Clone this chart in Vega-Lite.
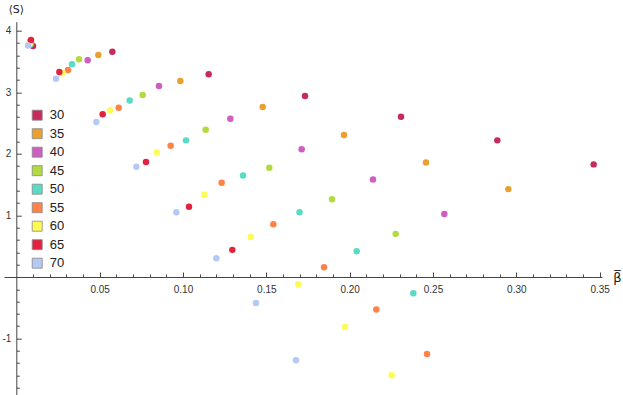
{
  "$schema": "https://vega.github.io/schema/vega-lite/v6.json",
  "width": 598,
  "height": 374,
  "autosize": {"type": "none"},
  "padding": {"left": 4, "top": 21.7, "right": 21, "bottom": 0},
  "background": "white",
  "config": {"view": {"stroke": null}, "font": "Liberation Sans"},
  "data": {"values": [
    {"n": "30", "beta": 0.0100, "S": 3.75},
    {"n": "35", "beta": 0.0088, "S": 3.79},
    {"n": "40", "beta": 0.0088, "S": 3.80},
    {"n": "45", "beta": 0.0082, "S": 3.80},
    {"n": "50", "beta": 0.0082, "S": 3.77},
    {"n": "55", "beta": 0.0082, "S": 3.82},
    {"n": "60", "beta": 0.0082, "S": 3.79},
    {"n": "65", "beta": 0.0088, "S": 3.85},
    {"n": "70", "beta": 0.0070, "S": 3.76},
    {"n": "30", "beta": 0.0576, "S": 3.659},
    {"n": "30", "beta": 0.1154, "S": 3.291},
    {"n": "30", "beta": 0.1732, "S": 2.938},
    {"n": "30", "beta": 0.2308, "S": 2.602},
    {"n": "30", "beta": 0.2886, "S": 2.218},
    {"n": "30", "beta": 0.3464, "S": 1.828},
    {"n": "35", "beta": 0.0492, "S": 3.605},
    {"n": "35", "beta": 0.0984, "S": 3.182},
    {"n": "35", "beta": 0.1478, "S": 2.759},
    {"n": "35", "beta": 0.1966, "S": 2.304},
    {"n": "35", "beta": 0.2458, "S": 1.860},
    {"n": "35", "beta": 0.2952, "S": 1.426},
    {"n": "40", "beta": 0.0428, "S": 3.519},
    {"n": "40", "beta": 0.0856, "S": 3.101},
    {"n": "40", "beta": 0.1284, "S": 2.569},
    {"n": "40", "beta": 0.1712, "S": 2.072},
    {"n": "40", "beta": 0.2140, "S": 1.584},
    {"n": "40", "beta": 0.2568, "S": 1.020},
    {"n": "45", "beta": 0.0376, "S": 3.535},
    {"n": "45", "beta": 0.0758, "S": 2.954},
    {"n": "45", "beta": 0.1136, "S": 2.390},
    {"n": "45", "beta": 0.1518, "S": 1.772},
    {"n": "45", "beta": 0.1894, "S": 1.263},
    {"n": "45", "beta": 0.2276, "S": 0.699},
    {"n": "50", "beta": 0.0334, "S": 3.454},
    {"n": "50", "beta": 0.0680, "S": 2.865},
    {"n": "50", "beta": 0.1018, "S": 2.218},
    {"n": "50", "beta": 0.1360, "S": 1.649},
    {"n": "50", "beta": 0.1699, "S": 1.052},
    {"n": "50", "beta": 0.2042, "S": 0.418},
    {"n": "50", "beta": 0.2382, "S": -0.265},
    {"n": "55", "beta": 0.0310, "S": 3.361},
    {"n": "55", "beta": 0.0614, "S": 2.748},
    {"n": "55", "beta": 0.0926, "S": 2.130},
    {"n": "55", "beta": 0.1232, "S": 1.528},
    {"n": "55", "beta": 0.1542, "S": 0.857},
    {"n": "55", "beta": 0.1846, "S": 0.158},
    {"n": "55", "beta": 0.2160, "S": -0.530},
    {"n": "55", "beta": 0.2464, "S": -1.252},
    {"n": "60", "beta": 0.0278, "S": 3.307},
    {"n": "60", "beta": 0.0562, "S": 2.706},
    {"n": "60", "beta": 0.0842, "S": 2.023},
    {"n": "60", "beta": 0.1128, "S": 1.333},
    {"n": "60", "beta": 0.1406, "S": 0.650},
    {"n": "60", "beta": 0.1692, "S": -0.119},
    {"n": "60", "beta": 0.1972, "S": -0.813},
    {"n": "60", "beta": 0.2252, "S": -1.598},
    {"n": "65", "beta": 0.0258, "S": 3.328},
    {"n": "65", "beta": 0.0518, "S": 2.641},
    {"n": "65", "beta": 0.0778, "S": 1.865},
    {"n": "65", "beta": 0.1036, "S": 1.138},
    {"n": "65", "beta": 0.1296, "S": 0.439},
    {"n": "70", "beta": 0.0238, "S": 3.220},
    {"n": "70", "beta": 0.0480, "S": 2.515},
    {"n": "70", "beta": 0.0720, "S": 1.789},
    {"n": "70", "beta": 0.0960, "S": 1.052},
    {"n": "70", "beta": 0.1200, "S": 0.304},
    {"n": "70", "beta": 0.1438, "S": -0.423},
    {"n": "70", "beta": 0.1678, "S": -1.354}
  ]},
  "mark": {"type": "circle", "size": 42, "opacity": 1},
  "encoding": {
    "x": {
      "field": "beta", "type": "quantitative",
      "scale": {"domain": [-0.0074, 0.3514], "nice": false, "zero": false},
      "axis": {
        "orient": "bottom", "offset": -118.7, "grid": false,
        "values": [0.01,0.02,0.03,0.04,0.05,0.06,0.07,0.08,0.09,0.10,0.11,0.12,0.13,0.14,0.15,0.16,0.17,0.18,0.19,0.20,0.21,0.22,0.23,0.24,0.25,0.26,0.27,0.28,0.29,0.30,0.31,0.32,0.33,0.34,0.35],
        "labelExpr": "abs(datum.value*20 - round(datum.value*20)) < 0.001 ? format(datum.value, '.2f') : ''",
        "tickSize": {"condition": {"test": "abs(datum.value*20 - round(datum.value*20)) < 0.001", "value": -5}, "value": -3},
        "labelPadding": 12.6, "labelFontSize": 10, "labelColor": "#333", "labelFont": "Liberation Sans",
        "labelBaseline": "top", "labelFlush": false, "labelOverlap": false,
        "domainColor": "#444", "tickColor": "#444", "domainWidth": 1, "tickWidth": 1,
        "title": "β̅", "titleFont": "DejaVu Sans", "titleFontSize": 13, "titleFontWeight": "normal", "titleColor": "#222",
        "titleX": 613, "titleY": 4.5, "titleAlign": "center", "titleBaseline": "alphabetic", "titleAngle": 0
      }
    },
    "y": {
      "field": "S", "type": "quantitative",
      "scale": {"domain": [-1.93, 4.146], "nice": false, "zero": false},
      "axis": {
        "orient": "left", "offset": -12.3, "grid": false,
        "values": [-1.8,-1.6,-1.4,-1.2,-1.0,-0.8,-0.6,-0.4,-0.2,0.2,0.4,0.6,0.8,1.0,1.2,1.4,1.6,1.8,2.0,2.2,2.4,2.6,2.8,3.0,3.2,3.4,3.6,3.8,4.0],
        "labelExpr": "abs(datum.value - round(datum.value)) < 0.001 ? '' + round(datum.value) : ''",
        "tickSize": {"condition": {"test": "abs(datum.value - round(datum.value)) < 0.001", "value": -5}, "value": -3},
        "labelPadding": 10.5, "labelFontSize": 10, "labelColor": "#333", "labelFont": "Liberation Sans",
        "labelAlign": "right", "labelBaseline": "middle", "labelFlush": false, "labelOverlap": false,
        "domainColor": "#444", "tickColor": "#444", "domainWidth": 1, "tickWidth": 1,
        "title": "⟨S⟩", "titleFont": "DejaVu Sans", "titleFontSize": 11, "titleFontWeight": "normal", "titleColor": "#222",
        "titleX": -0.5, "titleY": -12.5, "titleAlign": "center", "titleBaseline": "middle", "titleAngle": 0
      }
    },
    "color": {
      "field": "n", "type": "nominal",
      "scale": {
        "domain": ["30","35","40","45","50","55","60","65","70"],
        "range": ["#C72B5C","#E8A030","#CE5EC0","#B1DB3E","#5ADBC6","#FF8247","#FCFC55","#E2233F","#B6C9F5"]
      },
      "legend": {
        "orient": "none", "legendX": 26.7, "legendY": 87, "title": null,
        "symbolType": "square", "symbolSize": 100, "symbolStrokeColor": "#888", "symbolStrokeWidth": 0.8,
        "symbolOpacity": 1, "labelFontSize": 13, "labelFont": "Liberation Sans", "labelColor": "#222",
        "rowPadding": 3.5, "labelOffset": 6, "padding": 0
      }
    }
  }
}
